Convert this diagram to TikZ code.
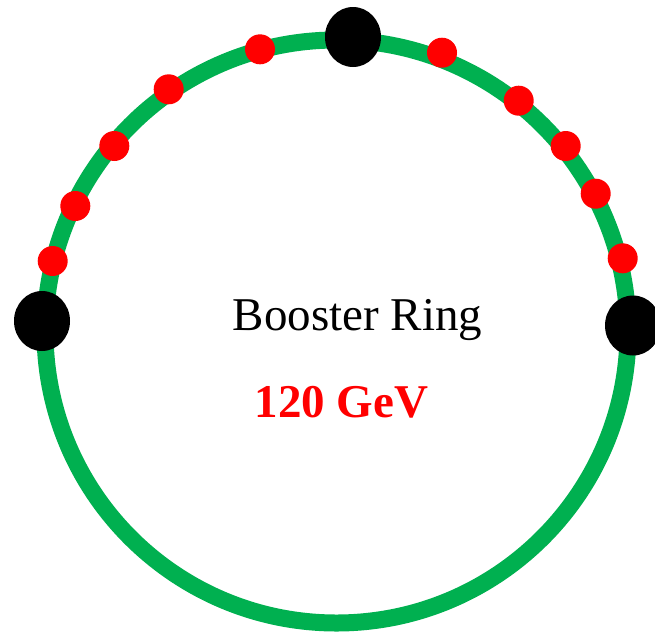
\documentclass[tikz,border=0pt]{standalone}
\usepackage{fontspec}
\setmainfont{Liberation Serif}
\usetikzlibrary{shapes.geometric}
\definecolor{ringgreen}{HTML}{00B050}
\definecolor{dotred}{HTML}{FF0000}
\tikzset{
  ringstyle/.style={draw=ringgreen, line width=17pt, circle, minimum size=583pt, inner sep=0pt},
  bigdot/.style={fill=black, ellipse, minimum width=56pt, minimum height=60pt, inner sep=0pt},
  smalldot/.style={fill=dotred, circle, minimum size=30pt, inner sep=0pt},
  labeltext/.style={anchor=base, inner sep=0pt, font=\fontsize{47}{56}\selectfont}
}
\begin{document}
\begin{tikzpicture}[x=1pt, y=-1pt]
\useasboundingbox (0,0) rectangle (655,635);
\node[ringstyle] (ring) at (336.5,331.5) {};
\node[smalldot] (r1) at (52.7,261) {};
\node[smalldot] (r2) at (75.3,206) {};
\node[smalldot] (r3) at (114.3,146) {};
\node[smalldot] (r4) at (168.7,89.3) {};
\node[smalldot] (r5) at (260,49.3) {};
\node[smalldot] (r6) at (442,52.7) {};
\node[smalldot] (r7) at (518.7,100.7) {};
\node[smalldot] (r8) at (565.7,146) {};
\node[smalldot] (r9) at (595.7,193.7) {};
\node[smalldot] (r10) at (622.7,258.3) {};
\node[bigdot] (bl) at (42,321) {};
\node[bigdot] (bt) at (353,37) {};
\node[bigdot] (br) at (633,325.5) {};
\node[labeltext] (title) at (357.5,330) {Booster Ring};
\node[labeltext, text=dotred, font=\fontsize{47}{56}\selectfont\bfseries] (energy) at (341.5,417) {120 GeV};
\end{tikzpicture}
\end{document}
